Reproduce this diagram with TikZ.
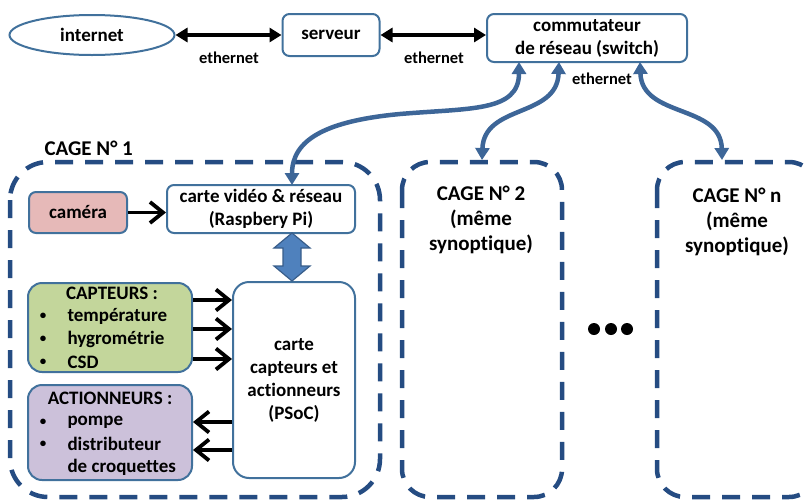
\documentclass[tikz,border=0pt]{standalone}
\usepackage{fontspec}
\setmainfont{Carlito}[Ligatures=NoCommon]
\usetikzlibrary{arrows.meta,shapes.geometric}
\definecolor{boxb}{RGB}{65,113,156}
\definecolor{cagec}{RGB}{37,76,130}
\definecolor{curvec}{RGB}{61,102,152}
\definecolor{camfill}{RGB}{230,185,184}
\definecolor{capfill}{RGB}{195,214,155}
\definecolor{actfill}{RGB}{204,193,218}
\definecolor{bigfill}{RGB}{79,129,189}
\definecolor{bigdraw}{RGB}{56,93,138}
\tikzset{
  txt/.style={font=\fontsize{19}{23}\selectfont\bfseries},
  big/.style={font=\fontsize{21}{25}\selectfont\bfseries},
  eth/.style={font=\fontsize{16.5}{19}\selectfont\bfseries},
  bul/.style={font=\fontsize{13}{15}\selectfont\bfseries},
  rbox/.style={draw=boxb, line width=2pt, rounded corners=7pt, txt, align=center, inner sep=0pt},
  cage/.style={draw=cagec, line width=4.5pt, dash pattern=on 18pt off 12pt},
  blk/.style={line width=3.8pt, black},
  toparr/.style={blk, {Triangle[length=12pt,width=14pt]}-{Triangle[length=12pt,width=14pt]}},
  barb/.style={blk, -{Straight Barb[length=13pt,width=21pt,line width=3.8pt]}},
  blue/.style={draw=curvec, line width=4.5pt, {Triangle[length=12pt,width=14pt]}-{Triangle[length=12pt,width=14pt]}},
}
\begin{document}
\begin{tikzpicture}[x=1pt,y=-1pt]
\useasboundingbox (0,0) rectangle (807,499);
\clip (0,0) rectangle (807,499);
% top row
\node[draw=boxb, line width=2pt, ellipse, minimum width=165pt, minimum height=40pt, inner sep=0pt, txt] (internet) at (92,35) {internet};
\node[rbox, minimum width=97pt, minimum height=42pt] (serveur) at (331,35) {serveur};
\node[rbox, minimum width=200pt, minimum height=48pt] (switch) at (587,38) {commutateur\\de réseau (switch)};
\draw[toparr] (internet.east) -- (serveur.west);
\draw[toparr] (serveur.east) -- (switch.west |- serveur.east);
\node[eth] (eth1) at (229,58) {ethernet};
\node[eth] (eth2) at (434,58) {ethernet};
\node[eth] (eth3) at (602,79) {ethernet};
% cages
\draw[cage, rounded corners=38pt] (10,162) rectangle (380,497);
\draw[cage, rounded corners=28pt] (402,162) rectangle (562,497);
\draw[cage, rounded corners=28pt] (657,162) rectangle (817,497);
\node[big, anchor=west] (c1) at (41,148) {CAGE N° 1};
\node[big, align=center] (c2) at (481,220) {CAGE N° 2\\(même\\synoptique)};
\node[big, align=center] (cn) at (737,222) {CAGE N° n\\(même\\synoptique)};
% dots
\foreach \xx/\nm in {594/d1,611/d2,627/d3}
  \node[circle, fill=black, minimum size=12pt, inner sep=0pt] (\nm) at (\xx,329) {};
% cage 1 content
\node[rbox, fill=camfill, minimum width=98pt, minimum height=41pt] (cam) at (78,212.5) {caméra};
\node[rbox, minimum width=188pt, minimum height=48pt] (rasp) at (261,209) {carte vidéo \& réseau\\(Raspbery Pi)};
\draw[barb] (cam.east) -- (rasp.west |- cam.east);
\node[rbox, rounded corners=16pt, minimum width=122pt, minimum height=196pt] (psoc) at (294,380) {carte\\capteurs et\\actionneurs\\(PSoC)};
\node[rbox, fill=capfill, rounded corners=14pt, minimum width=164pt, minimum height=89pt] (capt) at (110,327.5) {};
\node[rbox, fill=actfill, rounded corners=14pt, minimum width=164pt, minimum height=95pt] (act) at (110,432.5) {};
\node[txt] (captt) at (112,293) {CAPTEURS :};
\node[txt, anchor=west] (cp1) at (64,316) {température};
\node[txt, anchor=west] (cp2) at (64,339) {hygrométrie};
\node[txt, anchor=west] (cp3) at (64,362) {CSD};
\node[txt] (actt) at (110,398) {ACTIONNEURS :};
\node[txt, anchor=west] (ac1) at (64,422) {pompe};
\node[txt, anchor=west] (ac2) at (64,444) {distributeur};
\node[txt, anchor=west] (ac3) at (64,467) {de croquettes};
\foreach \yy/\nm in {316/b1,339/b2,362/b3,422/b4,444/b5}
  \node[bul] (\nm) at (43,\yy) {\textbullet};
\foreach \yy in {300,329,359}
  \draw[barb] (capt.east |- 0,\yy) -- (psoc.west |- 0,\yy);
\foreach \yy in {422,450}
  \draw[barb] (psoc.west |- 0,\yy) -- (capt.east |- 0,\yy);
% big double arrow
\filldraw[fill=bigfill, draw=bigdraw, line width=1.2pt, line join=miter]
  (292,233) -- (310,248) -- (301,248) -- (301,266) -- (310,266) -- (292,281)
  -- (274,266) -- (283,266) -- (283,248) -- (274,248) -- cycle;
% blue curves
\coordinate (s1) at (519,62);
\coordinate (s2) at (559,62);
\coordinate (s3) at (640,62);
\coordinate (r1) at (292,185);
\coordinate (k2) at (482,160);
\coordinate (kn) at (722,160);
\draw[blue] (s1) .. controls (519,112) and (470,108) .. (400,114) .. controls (325,121) and (292,140) .. (r1);
\draw[blue] (s2) .. controls (557,118) and (484,104) .. (k2);
\draw[blue] (s3) .. controls (642,118) and (721,104) .. (kn);
\end{tikzpicture}
\end{document}
